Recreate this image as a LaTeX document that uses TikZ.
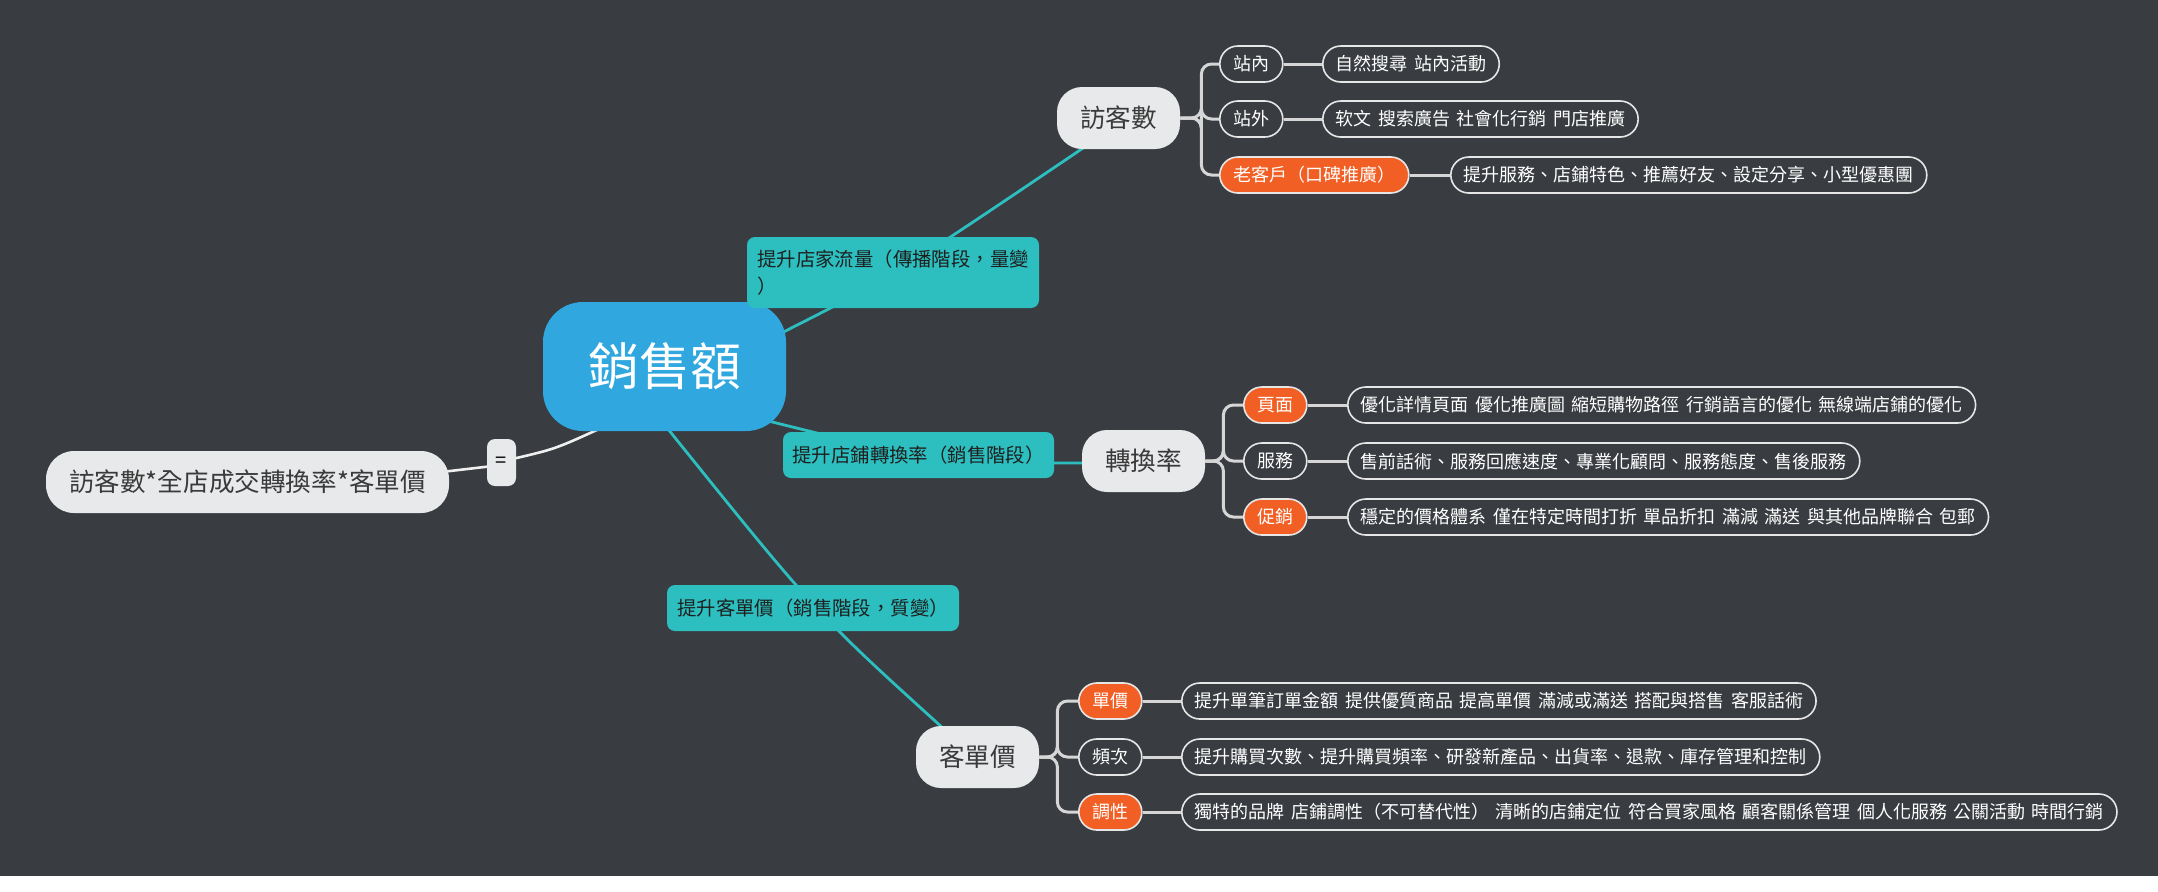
\documentclass[tikz,border=0pt]{standalone}
\usepackage{fontspec}
\setmainfont[WordSpace=1.6]{Noto Sans CJK TC}
\usetikzlibrary{calc}
\definecolor{mmbg}{HTML}{393C41}
\definecolor{mmblue}{HTML}{30A8DF}
\definecolor{mmteal}{HTML}{2DBFBF}
\definecolor{mmorange}{HTML}{F15F24}
\definecolor{mmgray}{HTML}{E8E9EB}
\definecolor{mmline}{HTML}{D6D6D6}
\definecolor{mmtext}{HTML}{3A3A3A}
\definecolor{mmborder}{HTML}{E6E6E6}
\pgfdeclarelayer{bgl}
\pgfdeclarelayer{edges}
\pgfsetlayers{bgl,edges,main}
\tikzset{
  central/.style={fill=mmblue, rounded corners=20pt, minimum width=121.5pt, minimum height=64.5pt,
    text=white, inner sep=0pt, font=\fontsize{25.5}{30}\selectfont},
  topic/.style={fill=mmgray, rounded corners=12.5pt, minimum width=61.5pt, minimum height=31pt,
    text=mmtext, inner sep=0pt, font=\fontsize{12.8}{15}\selectfont},
  formula/.style={topic, rounded corners=14pt, minimum width=201.5pt},
  eqbox/.style={fill=mmgray, rounded corners=4pt, minimum width=14.5pt, minimum height=23.5pt,
    inner sep=0pt, text=black, font=\fontsize{10}{12}\selectfont},
  tlabel/.style={fill=mmteal, rounded corners=4pt, text=black!88, inner sep=0pt, align=left,
    minimum height=23pt, font=\fontsize{9.7}{13.5}\selectfont},
  sub/.style={draw=mmborder, line width=0.8pt, fill=mmbg, text=white, rounded corners=9pt,
    minimum height=18pt, inner xsep=6.75pt, inner ysep=0pt, anchor=west,
    font=\fontsize{9}{11}\selectfont},
  subo/.style={sub, fill=mmorange},
  leaf/.style={sub, inner xsep=6.5pt},
  branch/.style={draw=mmline, line width=1.5pt, rounded corners=5pt},
  tline/.style={draw=mmteal, line width=1.4pt},
  wline/.style={draw=white!94!black, line width=1.3pt},
}
\begin{document}
\begin{tikzpicture}[x=0.5pt,y=-0.5pt]
\useasboundingbox (0,0) rectangle (2158,891);
\begin{pgfonlayer}{bgl}
\fill[white] (0,0) rectangle (2158,891);
\fill[mmbg] (0,0) rectangle (2158,876);
\end{pgfonlayer}

% main nodes
\node[central] (central) at (664.5,366.5) {銷售額};
\node[formula] (formula) at (247.5,482) {訪客數*全店成交轉換率*客單價};
\node[eqbox] (eq) at (501.5,462.5) {=};
\node[topic] (visit) at (1118.5,118) {訪客數};
\node[topic] (conv) at (1143.5,461) {轉換率};
\node[topic] (price) at (977.5,757) {客單價};

% teal labels
\node[tlabel, minimum width=146pt, minimum height=35.5pt] (lab1) at (893,272.5) {提升店家流量（傳播階段，量變\\）};
\node[tlabel, minimum width=135.5pt] (lab2) at (918.5,455) {提升店鋪轉換率（銷售階段）};
\node[tlabel, minimum width=146pt] (lab3) at (813,608) {提升客單價（銷售階段，質變）};

% visitors group
\node[sub] (v1) at (1219,64) {站內};
\node[sub] (v2) at (1219,119) {站外};
\node[subo] (v3) at (1219,175) {老客戶（口碑推廣）};
\node[leaf] (v1l) at (1322,64) {自然搜尋 站內活動};
\node[leaf] (v2l) at (1322,119) {软文 搜索廣告 社會化行銷 門店推廣};
\node[leaf] (v3l) at (1450,175) {提升服務、店鋪特色、推薦好友、設定分享、小型優惠團};

% conversion group
\node[subo] (c1) at (1243,405) {頁面};
\node[sub] (c2) at (1243,461) {服務};
\node[subo] (c3) at (1243,517) {促銷};
\node[leaf] (c1l) at (1347,405) {優化詳情頁面 優化推廣圖 縮短購物路徑 行銷語言的優化 無線端店鋪的優化};
\node[leaf] (c2l) at (1347,461) {售前話術、服務回應速度、專業化顧問、服務態度、售後服務};
\node[leaf] (c3l) at (1347,517) {穩定的價格體系 僅在特定時間打折 單品折扣 滿減 滿送 與其他品牌聯合 包郵};

% price group
\node[subo] (p1) at (1078,701) {單價};
\node[sub] (p2) at (1078,757) {頻次};
\node[subo] (p3) at (1078,812) {調性};
\node[leaf] (p1l) at (1181,701) {提升單筆訂單金額 提供優質商品 提高單價 滿減或滿送 搭配與搭售 客服話術};
\node[leaf] (p2l) at (1181,757) {提升購買次數、提升購買頻率、研發新產品、出貨率、退款、庫存管理和控制};
\node[leaf] (p3l) at (1181,812) {獨特的品牌 店鋪調性（不可替代性） 清晰的店鋪定位 符合買家風格 顧客關係管理 個人化服務 公關活動 時間行銷};

\begin{pgfonlayer}{edges}
% teal main connectors
\draw[tline] ($(central.east)+(-40,-16)$) -- ($(central.east)+(0,-36)$) .. controls (892,277) .. ($(visit.south)+(-33,-3)$);
\draw[tline] ($(central.east)+(-20,54)$) .. controls (937,463) .. ($(conv.west)+(5,2)$);
\draw[tline] ($(central.south)+(3,-3)$) .. controls (816,613) .. ($(price.north)+(-34,3)$);
% formula connector
\draw[wline] ($(formula.east)+(-8,-10)$) -- ($(eq.west)+(2,4)$);
\draw[wline] ($(eq.east)+(-2,-4)$) .. controls (555,449) .. ($(central.south)+(-62,-4)$);
% branches
\foreach \s in {v1,v2,v3}{\draw[branch] (visit.east) -- ++(21,0) |- (\s.west);}
\foreach \s in {c1,c2,c3}{\draw[branch] (conv.east) -- ++(18,0) |- (\s.west);}
\foreach \s in {p1,p2,p3}{\draw[branch] (price.east) -- ++(18,0) |- (\s.west);}
\foreach \s in {v1,v2,v3,c1,c2,c3,p1,p2,p3}{\draw[branch] (\s.east) -- (\s l.west);}
\end{pgfonlayer}
\end{tikzpicture}
\end{document}
